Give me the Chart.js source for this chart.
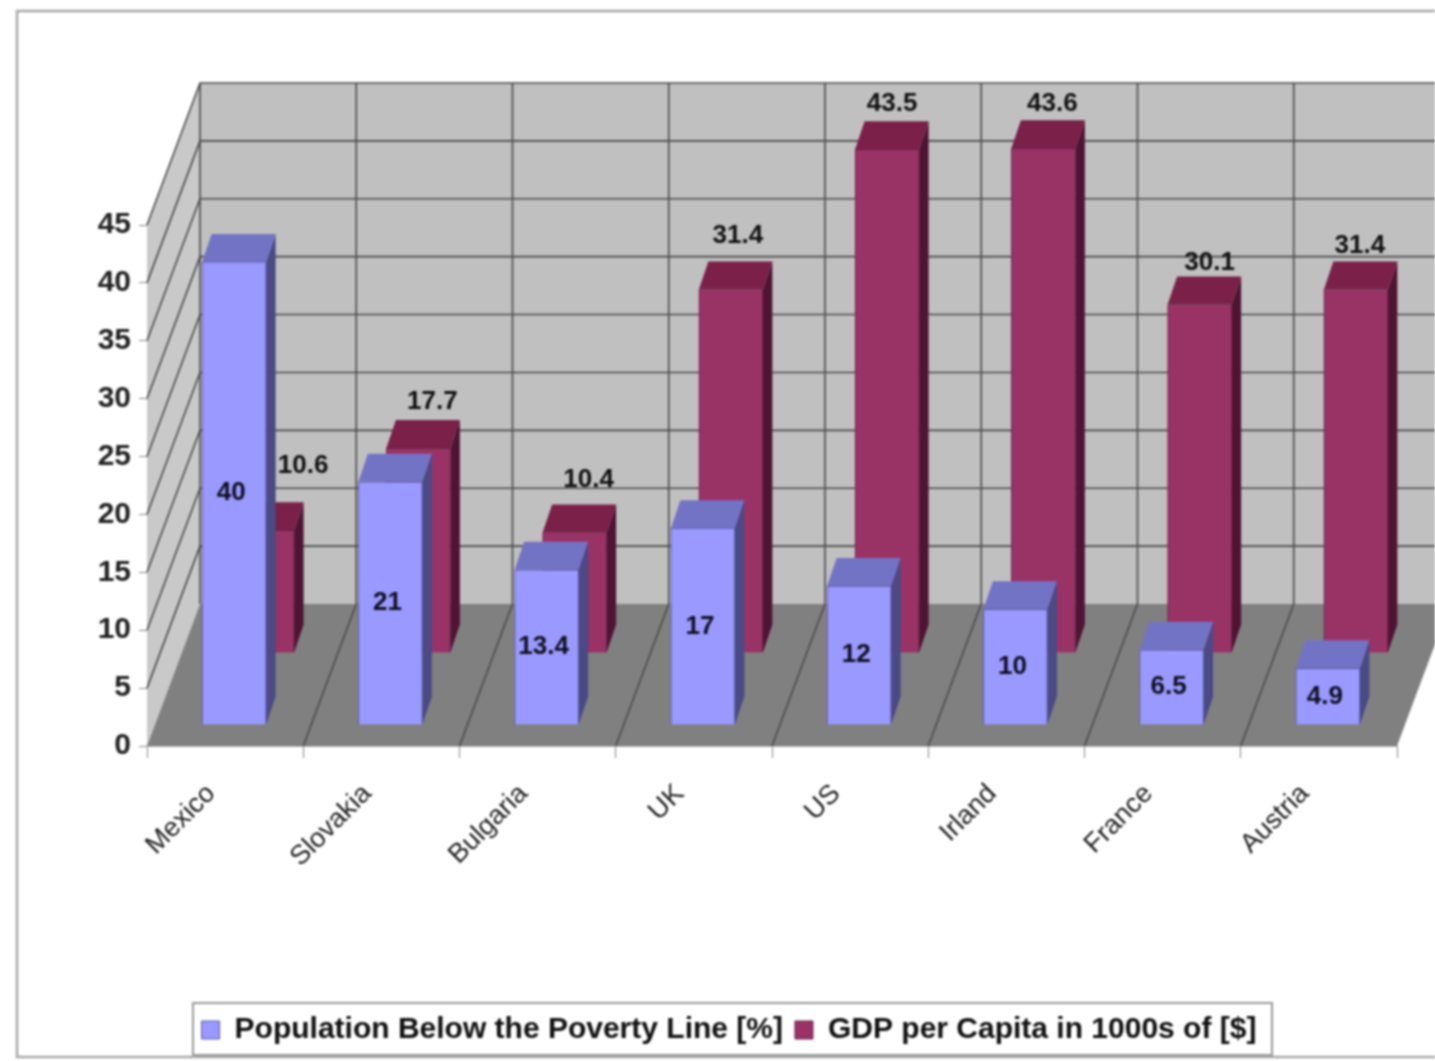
<!DOCTYPE html>
<html>
<head>
<meta charset="utf-8">
<style>
html,body{margin:0;padding:0;background:#fff;overflow:hidden}
canvas{display:block;filter:blur(1.1px)}
</style>
<script src="https://cdn.jsdelivr.net/npm/chart.js@4/dist/chart.umd.min.js"></script>
</head>
<body>
<canvas id="c" width="1435" height="1061"></canvas>
<script>
const categories = ['Mexico','Slovakia','Bulgaria','UK','US','Irland','France','Austria'];
const povertyValues = [40,21,13.4,17,12,10,6.5,4.9];
const gdpValues = [10.6,17.7,10.4,31.4,43.5,43.6,30.1,31.4];
const povertyName = 'Population Below the Poverty Line [%]';
const gdpName = 'GDP per Capita in 1000s of [$]';

const WALL = {dx:53, dy:-142};
const SERIES_SHIFT = [{dx:9,dy:-21},{dx:37,dy:-93}];
const BAR_DEPTH = {dx:9.5,dy:-28};
const FACES = [
  {front:'#9999ff',side:'#4a4a85',top:'#7373c6'},
  {front:'#993366',side:'#4f1433',top:'#7a2049'}
];
// small per-label nudges for GDP value labels, relative to the default label spot
const gdpLabelNudge = [[31,-14],[4,4],[4,-3],[-3,-4],[-5,4],[-1,6],[0,8],[-6,6]];

const threeD = {
  id:'threeD',
  beforeDraw(chart){
    const c = chart.ctx;
    c.save();
    c.fillStyle='#fff';c.fillRect(0,0,chart.width,chart.height);
    c.strokeStyle='#a8a8a8';c.lineWidth=2.5;
    c.strokeRect(17,11,1600,1046);
    c.restore();
  },
  beforeDatasetsDraw(chart){
    const c=chart.ctx, x=chart.scales.x, y=chart.scales.y;
    const n=categories.length, step=x.width/n;
    const y0=y.getPixelForValue(0), yT=y.getPixelForValue(45);
    const L=x.left,R=x.right,D=WALL;
    c.save();
    // back wall
    c.fillStyle='#c0c0c0';
    c.fillRect(L+D.dx,yT+D.dy,R-L,y0-yT);
    // side wall
    c.fillStyle='#c9c9c9';
    c.beginPath();c.moveTo(L,y0);c.lineTo(L,yT);c.lineTo(L+D.dx,yT+D.dy);c.lineTo(L+D.dx,y0+D.dy);c.closePath();c.fill();
    // floor
    c.fillStyle='#808080';
    c.beginPath();c.moveTo(L,y0);c.lineTo(R,y0);c.lineTo(R+D.dx,y0+D.dy);c.lineTo(L+D.dx,y0+D.dy);c.closePath();c.fill();
    // grid
    c.strokeStyle='#4a4a4a';c.lineWidth=1.6;
    for(const t of y.ticks){
      const py=y.getPixelForValue(t.value);
      if(t.value===0) continue;
      c.beginPath();c.moveTo(L,py);c.lineTo(L+D.dx,py+D.dy);c.lineTo(R+D.dx,py+D.dy);c.stroke();
    }
    for(let i=0;i<=n;i++){
      const px=L+i*step;
      c.beginPath();
      if(i>0&&i<n){c.moveTo(px,y0);c.lineTo(px+D.dx,y0+D.dy);}
      if(i<n){c.moveTo(px+D.dx,y0+D.dy);c.lineTo(px+D.dx,yT+D.dy);}
      c.stroke();
    }
    c.restore();
  },
  beforeDatasetDraw(chart,args){
    const c=chart.ctx,s=SERIES_SHIFT[args.index],f=FACES[args.index],d=BAR_DEPTH;
    c.save();
    c.translate(s.dx,s.dy);
    for(const b of args.meta.data){
      const l=b.x-b.width/2,r=b.x+b.width/2,t=b.y,bot=b.base;
      c.fillStyle=f.side;
      c.beginPath();c.moveTo(r,t);c.lineTo(r+d.dx,t+d.dy);c.lineTo(r+d.dx,bot+d.dy);c.lineTo(r,bot);c.closePath();c.fill();
      c.fillStyle=f.top;
      c.beginPath();c.moveTo(l,t);c.lineTo(l+d.dx,t+d.dy);c.lineTo(r+d.dx,t+d.dy);c.lineTo(r,t);c.closePath();c.fill();
    }
  },
  afterDatasetDraw(chart,args){
    const c=chart.ctx;
    c.fillStyle='#101020';
    c.font='bold 26px "Liberation Sans"';
    c.textAlign='center';c.textBaseline='middle';
    const ds=chart.data.datasets[args.index];
    args.meta.data.forEach((b,i)=>{
      if(args.index===0){
        c.fillText(String(ds.data[i]),b.x-3,(b.y+b.base)/2);
      }else{
        const nudge=gdpLabelNudge[i];
        c.fillStyle='#111';
        c.fillText(String(ds.data[i]),b.x+10+nudge[0],b.y-50+nudge[1]);
      }
    });
    c.restore();
  },
  afterDraw(chart){
    const c=chart.ctx,lg=chart.legend,hb=lg.legendHitBoxes;
    if(!hb||!hb.length)return;
    c.save();
    c.strokeStyle='#9a9a9a';c.lineWidth=2;
    c.strokeRect(193,1003,1079,52);
    c.restore();
  }
};

new Chart(document.getElementById('c'),{
  type:'bar',
  data:{labels:categories,datasets:[
    {label:povertyName,data:povertyValues,backgroundColor:FACES[0].front,borderColor:'#5a5aa0',borderWidth:1,clip:false,grouped:false},
    {label:gdpName,data:gdpValues,backgroundColor:FACES[1].front,borderColor:'#6a2046',borderWidth:1,clip:false,grouped:false}
  ]},
  plugins:[threeD],
  options:{
    responsive:false,animation:false,devicePixelRatio:1,
    datasets:{bar:{barThickness:64}},
    layout:{padding:{left:61,right:38,top:225,bottom:6}},
    plugins:{
      tooltip:{enabled:false},
      legend:{
        position:'bottom',
        labels:{color:'#111',font:{family:'"Liberation Sans"',size:30,weight:'bold'},boxWidth:18,boxHeight:18,padding:12}
      }
    },
    scales:{
      x:{
        type:'category',offset:true,
        grid:{display:true,drawOnChartArea:false,drawTicks:true,tickLength:12,color:'#888',offset:true},
        border:{display:true,color:'#b0b0b0',width:2},
        ticks:{color:'#222',font:{family:'"Liberation Sans"',size:27},minRotation:45,maxRotation:45,autoSkip:false,padding:20,labelOffset:-14},
        afterFit(s){s.height=257;}
      },
      y:{
        min:0,max:45,
        grid:{display:true,drawOnChartArea:false,drawTicks:true,tickLength:8,color:'#888'},
        border:{display:true,color:'#c9c9c9'},
        ticks:{stepSize:5,color:'#222',font:{family:'"Liberation Sans"',size:30,weight:'bold'},padding:8},
        afterFit(s){s.width=86;}
      }
    }
  }
});
</script>
</body>
</html>
